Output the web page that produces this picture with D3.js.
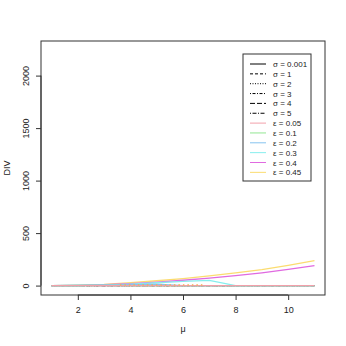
<!DOCTYPE html>
<html>
<head>
<script src="https://d3js.org/d3.v7.min.js"></script>
<style>
  body { margin: 0; background: #fff; }
  text { font-family: "Liberation Sans", Arial, sans-serif; fill: #222; }
</style>
</head>
<body>
<svg id="chart"></svg>
<script>
const width = 346, height = 346;

// mu values on the x axis
const mu = [1, 2, 3, 4, 5, 6, 7, 8, 9, 10, 11];

// sigma series (all stay at zero)
const sigmaLabels = ["σ = 0.001", "σ = 1", "σ = 2", "σ = 3", "σ = 4", "σ = 5"];
const sigmaDash = ["none", "3,2", "1,1.5", "1,1.5,3,1.5", "5,2", "1,1.5,4,1.5"];
const sigmaValues = [
  [0, 0, 0, 0, 0, 0, 0, 0, 0, 0, 0],
  [0, 0, 0, 0, 0, 0, 0, 0, 0, 0, 0],
  [0, 0, 0, 0, 0, 0, 0, 0, 0, 0, 0],
  [0, 0, 0, 0, 0, 0, 0, 0, 0, 0, 0],
  [0, 0, 0, 0, 0, 0, 0, 0, 0, 0, 0],
  [0, 0, 0, 0, 0, 0, 0, 0, 0, 0, 0]
];

// epsilon series
const epsLabels = ["ε = 0.05", "ε = 0.1", "ε = 0.2", "ε = 0.3", "ε = 0.4", "ε = 0.45"];
const epsColors = ["#f2a0aa", "#93e693", "#86c4ef", "#86eeee", "#e06ae0", "#fbdc70"];
const epsValues = [
  [0, 0, 0, 0, 0, 0, 0, 0, 0, 0, 0],
  [0, 1, 3, 0, 0, 0, 0, 0, 0, 0, 0],
  [0, 1, 4, 9, 14, 0, 0, 0, 0, 0, 0],
  [0, 1, 5, 14, 27, 40, 50, 0, 0, 0, 0],
  [0, 2, 8, 19, 33, 51, 72, 95, 122, 154, 190],
  [0, 3, 11, 28, 46, 67, 92, 121, 153, 193, 238]
];

// short dotted orange trace near zero
const dotMu = [3.6, 6.8];
const dotValues = [0, 0];

const yTicks = [0, 500, 1000, 1500, 2000];
const xTicks = [2, 4, 6, 8, 10];

const mLeft = 41, mRight = 325, mTop = 41, mBottom = 295;

const svg = d3.select("#chart").attr("width", width).attr("height", height);

// R style 4% padding
const xr = 11 - 1, yr = 2240 - 0;
const x = d3.scaleLinear().domain([1 - 0.04 * xr, 11 + 0.04 * xr]).range([mLeft, mRight]);
const y = d3.scaleLinear().domain([0 - 0.04 * yr, 2240 + 0.04 * yr]).range([mBottom, mTop]);

const line = d3.line().x((d, i) => x(mu[i])).y(d => y(d));

const g = svg.append("g");

sigmaValues.forEach((vals, k) => {
  g.append("path")
    .attr("d", line(vals))
    .attr("fill", "none")
    .attr("stroke", "#000")
    .attr("stroke-width", 1)
    .attr("stroke-dasharray", sigmaDash[k]);
});

// draw epsilon in reverse so the red one sits on top at zero
for (let k = epsValues.length - 1; k >= 0; k--) {
  g.append("path")
    .attr("d", line(epsValues[k]))
    .attr("fill", "none")
    .attr("stroke", epsColors[k])
    .attr("stroke-width", 1.3);
}

g.append("path")
  .attr("d", d3.line().x((d, i) => x(dotMu[i])).y(d => y(d) - 0.7)(dotValues))
  .attr("fill", "none")
  .attr("stroke", "#f0b050")
  .attr("stroke-width", 1.3)
  .attr("stroke-dasharray", "1.5,3");

// box
svg.append("rect")
  .attr("x", mLeft).attr("y", mTop)
  .attr("width", mRight - mLeft).attr("height", mBottom - mTop)
  .attr("fill", "none").attr("stroke", "#333").attr("stroke-width", 1);

// x axis
const xa = svg.append("g").attr("transform", `translate(0,${mBottom})`)
  .call(d3.axisBottom(x).tickValues(xTicks).tickSize(5).tickPadding(7).tickSizeOuter(0));
xa.select(".domain").attr("d", `M${x(2)},0H${x(10)}`).attr("stroke", "#333");
xa.selectAll("line").attr("stroke", "#333");
xa.selectAll("text").attr("font-size", 9).style("fill", "#222");

// y axis
const ya = svg.append("g").attr("transform", `translate(${mLeft},0)`)
  .call(d3.axisLeft(y).tickValues(yTicks).tickFormat(d3.format("d")).tickSize(5).tickSizeOuter(0));
ya.select(".domain").attr("d", `M0,${y(0)}V${y(2000)}`).attr("stroke", "#333");
ya.selectAll("line").attr("stroke", "#333");
ya.selectAll("text")
  .attr("font-size", 9)
  .attr("x", 0).attr("dy", 0)
  .attr("text-anchor", "middle")
  .attr("transform", "translate(-12,0) rotate(-90)")
  .style("fill", "#222");

// axis titles
svg.append("text").attr("x", (mLeft + mRight) / 2).attr("y", 332)
  .attr("text-anchor", "middle").attr("font-size", 9).text("μ");
svg.append("text")
  .attr("transform", `translate(10,${(mTop + mBottom) / 2}) rotate(-90)`)
  .attr("text-anchor", "middle").attr("font-size", 9).text("DIV");

// legend
const lx = 243, ly = 54, lw = 68, lh = 127, rowH = 9.85, firstRow = 64;
svg.append("rect").attr("x", lx).attr("y", ly).attr("width", lw).attr("height", lh)
  .attr("fill", "#fff").attr("stroke", "#333").attr("stroke-width", 1);

const entries = sigmaLabels.map((t, i) => ({ t, color: "#000", dash: sigmaDash[i] }))
  .concat(epsLabels.map((t, i) => ({ t, color: epsColors[i], dash: "none" })));

entries.forEach((e, i) => {
  const yy = firstRow + i * rowH;
  svg.append("line").attr("x1", 250).attr("x2", 266).attr("y1", yy).attr("y2", yy)
    .attr("stroke", e.color).attr("stroke-width", 1).attr("stroke-dasharray", e.dash);
  svg.append("text").attr("x", 273).attr("y", yy + 3).attr("font-size", 8).text(e.t);
});
</script>
</body>
</html>
